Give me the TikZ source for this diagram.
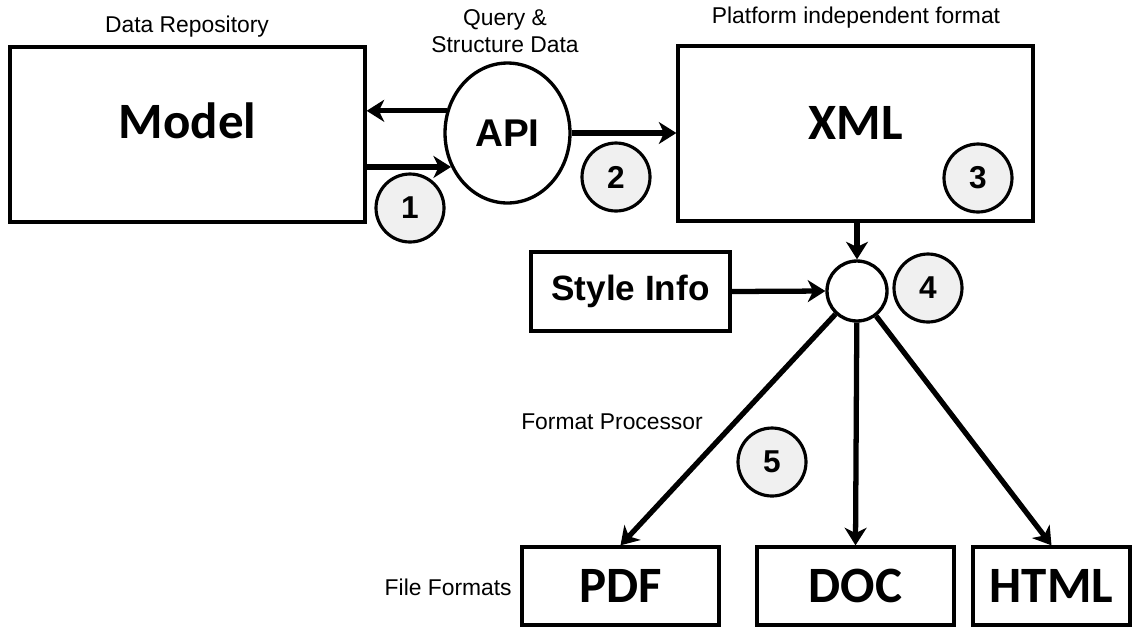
\documentclass[tikz,border=0pt]{standalone}
\usepackage{fontspec}
\setmainfont{Liberation Sans}
\newfontfamily\calfont{Carlito}
\usepackage{tikz}
\usetikzlibrary{arrows.meta,shapes.geometric}

\begin{document}
\begin{tikzpicture}[x=0.02cm, y=-0.02cm,
	box/.style={draw, line width=1.9pt, inner sep=0pt},
	bigbox/.style={box, minimum width=7.1cm, minimum height=3.5cm},
	outbox/.style={box, minimum height=1.56cm},
	big/.style={font=\calfont\bfseries\fontsize{29}{29}\selectfont},
	small/.style={font=\fontsize{13}{15.5}\selectfont, inner sep=0pt},
	num/.style={draw, circle, line width=1.8pt, fill=black!6, minimum size=1.36cm, inner sep=0pt, font=\bfseries\fontsize{18}{18}\selectfont},
	flow/.style={line width=3pt, -{Stealth[length=10pt, width=12.5pt, inset=3pt]}}]

	\useasboundingbox (0,0) rectangle (1133,627);

	\node[bigbox] (model) at (187.5,134.5) {};
	\node[big] at (187.5,121) {Model};
	\node[small] (repo) at (187,27) {Data Repository};

	\node[draw, ellipse, line width=1.9pt, minimum width=2.5cm, minimum height=2.8cm, inner sep=0pt, font=\bfseries\fontsize{22}{22}\selectfont] (api) at (507.5,133) {API};
	\node[small, align=center] (query) at (505,31) {Query \&\\Structure Data};

	\node[bigbox] (xml) at (855.5,133.5) {};
	\node[big] at (855.5,123) {XML};
	\node[small] (platform) at (856,18) {Platform independent format};

	\node[box, minimum width=3.98cm, minimum height=1.58cm, font=\bfseries\fontsize{20}{20}\selectfont] (style) at (630.5,291.5) {Style Info};
	\node[draw, circle, line width=1.9pt, minimum size=1.2cm, inner sep=0pt] (hub) at (857,291) {};

	\node[outbox, big, minimum width=3.94cm] (pdf) at (620.5,586) {PDF};
	\node[outbox, big, minimum width=3.94cm] (doc) at (855.5,586) {DOC};
	\node[outbox, big, minimum width=3.14cm] (html) at (1051.5,586) {HTML};
	\node[small, anchor=east] (files) at (512,587) {File Formats};
	\node[small] (proc) at (612,422) {Format Processor};

	\node[num] (n1) at (410,208) {1};
	\node[num] (n2) at (616,177) {2};
	\node[num] (n3) at (978,178) {3};
	\node[num] (n4) at (928,288) {4};
	\node[num] (n5) at (772,462) {5};


	\draw[flow] (api.160) -- (api.160 -| model.east);
	\draw[flow] (api.211 -| model.east) -- (api.211);
	\draw[flow] (api.east) -- (api.east -| xml.west);
	\draw[flow] (hub.north |- xml.south) -- (hub.north);
	\draw[flow] (style.east) -- (hub.west);

	\draw[flow] (hub) -- (pdf.north);
	\draw[flow] (hub) -- (doc.north);
	\draw[flow] (hub) -- (html.north);


\end{tikzpicture}
\end{document}
